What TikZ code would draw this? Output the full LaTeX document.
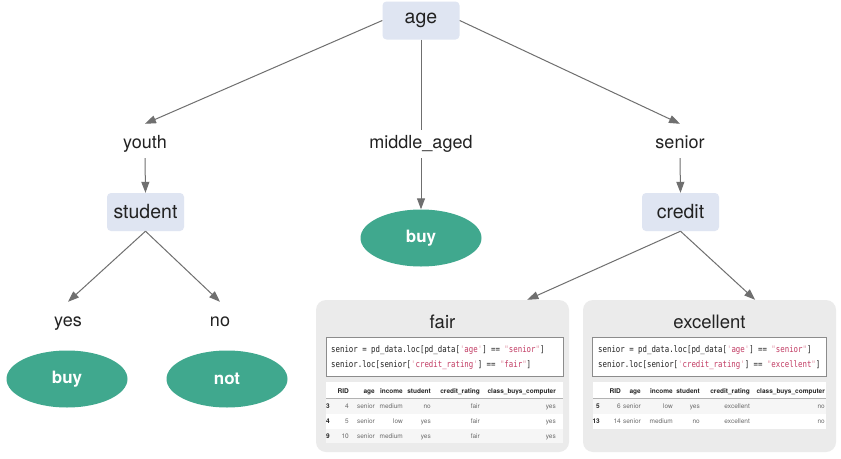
\documentclass[tikz,border=0pt]{standalone}
\usepackage{fontspec}
\setmainfont{TeX Gyre Heros}
\setmonofont[FakeStretch=0.82]{DejaVu Sans Mono}
\usetikzlibrary{arrows.meta,shapes.geometric,calc}
\definecolor{boxc}{HTML}{DFE5F2}
\definecolor{leafc}{HTML}{40A88E}
\definecolor{arrc}{HTML}{6F6F6F}
\definecolor{panelc}{HTML}{EBEBEB}
\definecolor{txtc}{HTML}{222222}
\definecolor{strc}{HTML}{C23B63}
\definecolor{quotec}{HTML}{E39AAA}
\definecolor{valc}{HTML}{6A6A6A}
\definecolor{stripec}{HTML}{F6F6F6}
\newcommand\cstr[2]{\textcolor{quotec}{#1}\textcolor{strc}{#2}\textcolor{quotec}{#1}}
\newcommand\trow[9]{%
  \node[tdi,name=#1i] at (\cA,#2) {#3};
  \node[tdv,name=#1a] at (\cB,#2) {#4};
  \node[tdv,name=#1b] at (\cC,#2) {#5};
  \node[tdv,name=#1c] at (\cD,#2) {#6};
  \node[tdv,name=#1d] at (\cE,#2) {#7};
  \node[tdv,name=#1e] at (\cF,#2) {#8};
  \node[tdv,name=#1f] at (\cG,#2) {#9};}
\newcommand\thead[2]{%
  \node[th,name=#1a] at (\cB,#2) {RID};
  \node[th,name=#1b] at (\cC,#2) {age};
  \node[th,name=#1c] at (\cD,#2) {income};
  \node[th,name=#1d] at (\cE,#2) {student};
  \node[th,name=#1e] at (\cF,#2) {credit\_rating};
  \node[th,name=#1f] at (\cG,#2) {class\_buys\_computer};}
\begin{document}
\begin{tikzpicture}[x=1pt,y=-1pt,
  decision/.style={rectangle, rounded corners=4pt, fill=boxc, minimum width=77pt, minimum height=38pt, inner sep=0pt, font=\fontsize{19.5}{22}\selectfont, text=txtc},
  leaf/.style={ellipse, fill=leafc, minimum width=121pt, minimum height=57pt, inner sep=0pt, font=\bfseries\fontsize{17}{20}\selectfont, text=white},
  branch/.style={inner sep=0pt, text height=24pt, text depth=10pt, font=\fontsize{18}{20}\selectfont, text=txtc, anchor=base},
  conn/.style={draw=arrc, line width=1pt, -{Triangle[length=11pt,width=8pt]}},
  plainline/.style={draw=arrc, line width=1pt},
  panel/.style={fill=panelc, rounded corners=10pt, inner sep=0pt, minimum width=253pt, minimum height=152pt},
  ptitle/.style={inner sep=0pt, anchor=base, font=\fontsize{18.5}{20}\selectfont, text=txtc},
  codebox/.style={draw=black!45, fill=white, line width=0.7pt, inner sep=0pt, minimum height=39pt},
  codeline/.style={inner sep=0pt, anchor=base west, font=\ttfamily\fontsize{9}{10}\selectfont, text=txtc},
  tabbox/.style={fill=white, inner sep=0pt},
  th/.style={inner sep=0pt, anchor=base east, font=\bfseries\fontsize{6.5}{7}\selectfont, text=txtc},
  tdi/.style={inner sep=0pt, anchor=base east, font=\bfseries\fontsize{6.5}{7}\selectfont, text=txtc},
  tdv/.style={inner sep=0pt, anchor=base east, font=\fontsize{6.5}{7}\selectfont, text=valc}]
\useasboundingbox[fill=white] (0,0) rectangle (841,458);

% tree nodes
\node[decision] (age) at (421,20.5) {age};
\node[branch] (youth) at (145,148) {youth};
\node[branch] (middle) at (421,148) {middle\_aged};
\node[branch] (senior) at (680,148) {senior};
\node[decision] (student) at (145.5,212) {student};
\node[decision] (credit) at (680.5,212) {credit};
\node[leaf] (mbuy) at (421,238) {buy};
\node[branch] (yes) at (68,326) {yes};
\node[branch] (no) at (220,326) {no};
\node[leaf] (ybuy) at (67,379) {buy};
\node[leaf] (nnot) at (227,379) {not};

% panels
\node[panel] (fair) at (442.5,376) {};
\node[panel] (exc) at (709.5,376) {};
\node[ptitle] (fairt) at (442.5,328) {fair};
\node[ptitle] (exct) at (709.5,328) {excellent};

% code boxes
\node[codebox, minimum width=237pt] (fcode) at (444.5,356.5) {};
\node[codebox, minimum width=234pt] (ecode) at (709.5,356.5) {};
\node[codeline] (fc1) at (331,352) {senior = pd\_data.loc[pd\_data[\cstr{'}{age}] == \cstr{"}{senior}]};
\node[codeline] (fc2) at (331,367) {senior.loc[senior[\cstr{'}{credit\_rating}] == \cstr{"}{fair}]};
\node[codeline] (ec1) at (598,352) {senior = pd\_data.loc[pd\_data[\cstr{'}{age}] == \cstr{"}{senior}]};
\node[codeline] (ec2) at (598,367) {senior.loc[senior[\cstr{'}{credit\_rating}] == \cstr{"}{excellent}]};

% tables
\node[tabbox, minimum width=237pt, minimum height=61pt] (ftab) at (444.5,412.5) {};
\node[tabbox, minimum width=233pt, minimum height=47pt] (etab) at (709.5,405.5) {};
\fill[stripec] (326,399) rectangle (563,413.5);
\fill[stripec] (326,428.5) rectangle (563,443);
\fill[stripec] (593,399) rectangle (826,413.5);
\draw[black!30, line width=0.6pt] (326,398.5) -- (563,398.5);
\draw[black!30, line width=0.6pt] (593,398.5) -- (826,398.5);

\def\cA{330}\def\cB{349}\def\cC{375}\def\cD{403}\def\cE{431}\def\cF{480}\def\cG{556}
\thead{fh}{393.5}
\trow{fr1}{408.5}{3}{4}{senior}{medium}{no}{fair}{yes}
\trow{fr2}{423.5}{4}{5}{senior}{low}{yes}{fair}{yes}
\trow{fr3}{438.5}{9}{10}{senior}{medium}{yes}{fair}{yes}

\def\cA{600}\def\cB{621}\def\cC{641}\def\cD{673}\def\cE{700}\def\cF{750}\def\cG{825}
\thead{eh}{393.5}
\trow{er1}{408.5}{5}{6}{senior}{low}{yes}{excellent}{no}
\trow{er2}{423.5}{13}{14}{senior}{medium}{no}{excellent}{no}

% connectors
\draw[conn] (age.west) -- (youth.north);
\draw[plainline, shorten >=-6pt] (age.south) -- (middle.north);
\draw[conn] (age.east) -- (senior.north);
\draw[conn] (youth.south) -- (student.north);
\draw[conn] (middle.south) -- (mbuy.north);
\draw[conn] (senior.south) -- (credit.north);
\draw[conn] (student.south) -- (yes.north);
\draw[conn] (student.south) -- (no.north);
\draw[conn] (credit.south) -- ($(fair.north)!0.67!(fair.north east)$);
\draw[conn] (credit.south) -- ($(exc.north)!0.36!(exc.north east)$);
\end{tikzpicture}
\end{document}
